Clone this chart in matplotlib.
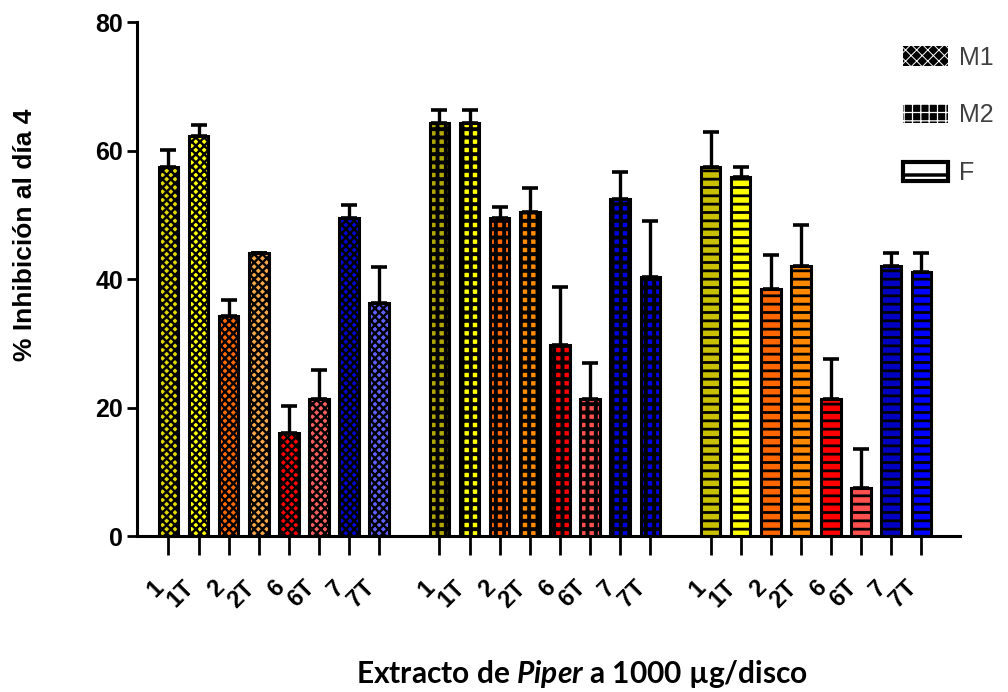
import numpy as np
import matplotlib
matplotlib.use("Agg")
import matplotlib.pyplot as plt
import matplotlib.transforms as mtransforms
from matplotlib.patches import Patch

# ---------------- data ----------------
labels = ['1', '1T', '2', '2T', '6', '6T', '7', '7T']
group_names = ['M1', 'M2', 'F']

m1 = [57.5, 62.2, 34.2, 44.1, 16.1, 21.4, 49.5, 36.2]
m1_err = [2.6, 1.8, 2.6, 0.0, 4.1, 4.4, 2.0, 5.6]
m2 = [64.3, 64.3, 49.5, 50.5, 29.8, 21.3, 52.5, 40.3]
m2_err = [2.0, 2.0, 1.7, 3.7, 8.9, 5.6, 4.2, 8.8]
f_vals = [57.5, 55.8, 38.4, 42.0, 21.3, 7.5, 42.0, 41.1]
f_err = [5.4, 1.7, 5.3, 6.4, 6.2, 6.1, 2.1, 3.0]

m1_colors = ['#e0d800', '#ffff00', '#ff6a00', '#f8a848', '#ff0000', '#f86060', '#0000d0', '#6060ff']
m2_colors = ['#b0a800', '#ffff00', '#ff6600', '#ff8c00', '#ff0000', '#ff5050', '#0000e0', '#0000e8']
f_colors = ['#c8c000', '#ffff00', '#ff6600', '#ff8800', '#ff0000', '#ff5050', '#0000c0', '#0000ff']

values = [m1, m2, f_vals]
errors = [m1_err, m2_err, f_err]
colors = [m1_colors, m2_colors, f_colors]
hatches = ['xxxx', '++', '--']
hatch_lw = [1.7, 2.8, 2.0]

# ---------------- figure ----------------
plt.rcParams['hatch.linewidth'] = 1.6
fig = plt.figure(figsize=(10.08, 6.92), dpi=100)
ax = fig.add_axes([0.136, 0.2254, 0.816, 0.7428])

base = np.arange(len(labels))
all_pos = []
all_lab = []
for g in range(3):
    pos = base + g * (len(labels) + 1)
    with plt.rc_context({'hatch.linewidth': hatch_lw[g]}):
        bars = ax.bar(pos, values[g], width=0.65, color=colors[g], edgecolor='black',
                      linewidth=2.2, hatch=hatches[g], zorder=2)
    for b in bars:
        if hasattr(b, 'set_hatch_linewidth'):
            b.set_hatch_linewidth(hatch_lw[g])
    ax.errorbar(pos, values[g], yerr=[np.zeros(len(labels)), errors[g]], fmt='none',
                ecolor='black', elinewidth=2.4, capsize=5.5, capthick=2.6, zorder=3)
    all_pos.extend(pos)
    all_lab.extend(labels)

ax.set_xlim(-1.04, 26.27)
ax.set_ylim(0, 80)
ax.set_yticks([0, 20, 40, 60, 80])
ax.set_xticks(all_pos)
ax.set_xticklabels(all_lab, rotation=45, ha='right', va='top',
                   fontsize=17, fontweight='bold', family='Liberation Sans')
shift = mtransforms.ScaledTranslation(6 / 100, -3 / 100, fig.dpi_scale_trans)
for t in ax.get_xticklabels():
    t.set_transform(t.get_transform() + shift)
for t in ax.get_yticklabels():
    t.set_fontsize(18)
    t.set_fontweight('bold')
    t.set_family('Liberation Sans')

for s in ['top', 'right']:
    ax.spines[s].set_visible(False)
for s in ['left', 'bottom']:
    ax.spines[s].set_linewidth(2.2)
ax.tick_params(axis='y', length=7, width=2, pad=3)
ax.tick_params(axis='x', length=14, width=2, pad=15)

fig.text(0.025, 0.66, '% Inhibición al día 4', rotation=90, ha='center', va='center',
         fontsize=19, fontweight='bold', family='Liberation Sans')

plt.rcParams['mathtext.fontset'] = 'custom'
plt.rcParams['mathtext.it'] = 'Lato:italic:bold'
plt.rcParams['mathtext.rm'] = 'Lato:bold'
fig.text(0.577, 0.026, r'Extracto de $\it{Piper}$ a 1000 µg/disco', ha='center', va='center',
         fontsize=21.5, fontweight='bold', family='Lato')

handles = [Patch(facecolor='black', edgecolor='white', hatch='xxx', linewidth=0),
           Patch(facecolor='black', edgecolor='white', hatch='++', linewidth=0),
           Patch(facecolor='white', edgecolor='black', hatch='-', linewidth=3)]
leg = fig.legend(handles, group_names, loc='upper left', bbox_to_anchor=(0.883, 0.952),
                 bbox_transform=fig.transFigure, frameon=False, borderpad=0,
                 handlelength=1.8, handleheight=0.8, handletextpad=0.45, labelspacing=1.35,
                 prop={'family': 'Liberation Sans', 'size': 18})
for i, h in enumerate(leg.legend_handles):
    if hasattr(h, 'set_hatch_linewidth'):
        h.set_hatch_linewidth([0.7, 0.9, 2.5][i])
for t in leg.get_texts():
    t.set_color('#404040')

fig.savefig('out.png', dpi=100)
